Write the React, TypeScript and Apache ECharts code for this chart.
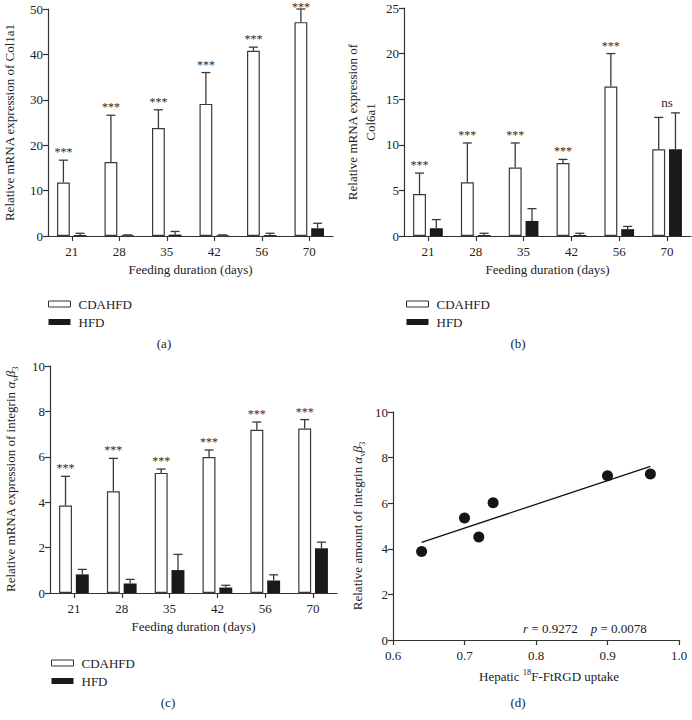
import React, { useEffect, useRef } from "react";
import * as echarts from "echarts";

const FONT = '"Liberation Serif", "Times New Roman", serif';

// Shared categories
const DAYS = ["21", "28", "35", "42", "56", "70"];
const SERIES_NAMES = ["CDAHFD", "HFD"];

// Panel (a) Col1a1
const A_CDAHFD = [11.8, 16.3, 23.8, 29.1, 40.8, 47.1];
const A_CDAHFD_SD = [4.9, 10.3, 4.0, 6.9, 0.8, 2.9];
const A_HFD = [0.2, 0.15, 0.3, 0.15, 0.2, 1.7];
const A_HFD_SD = [0.4, 0.1, 0.7, 0.1, 0.4, 1.1];
const A_SIG = ["***", "***", "***", "***", "***", "***"];

// Panel (b) Col6a1
const B_CDAHFD = [4.6, 5.9, 7.5, 8.0, 16.4, 9.5];
const B_CDAHFD_SD = [2.3, 4.3, 2.7, 0.4, 3.6, 3.5];
const B_HFD = [0.85, 0.1, 1.65, 0.1, 0.75, 9.5];
const B_HFD_SD = [0.95, 0.2, 1.35, 0.2, 0.3, 4.0];
const B_SIG = ["***", "***", "***", "***", "***", "ns"];

// Panel (c) integrin avb3 mRNA
const C_CDAHFD = [3.85, 4.48, 5.29, 5.99, 7.19, 7.25];
const C_CDAHFD_SD = [1.29, 1.45, 0.17, 0.31, 0.34, 0.39];
const C_HFD = [0.82, 0.42, 1.01, 0.24, 0.55, 1.97];
const C_HFD_SD = [0.22, 0.18, 0.69, 0.1, 0.25, 0.27];
const C_SIG = ["***", "***", "***", "***", "***", "***"];

// Panel (d) correlation
const D_UPTAKE = [0.64, 0.7, 0.72, 0.74, 0.9, 0.96];
const D_INTEGRIN = [3.88, 5.35, 4.52, 6.02, 7.2, 7.28];
const D_FIT_X = [0.64, 0.96];
const D_FIT_Y = [4.28, 7.62];

const AXIS_COLOR = "#333";
const TEXT_COLOR = "#222";

function yAxisCfg(gridIndex: number, max: number, interval: number, name: string, gap: number, rich?: any, lineHeight?: number) {
  return {
    type: "value",
    gridIndex,
    min: 0,
    max,
    interval,
    name,
    nameLocation: "middle",
    nameGap: gap,
    nameRotate: 90,
    nameTextStyle: {
      fontFamily: FONT,
      fontSize: 13,
      color: TEXT_COLOR,
      lineHeight: lineHeight || 16,
      align: "center",
      rich,
    },
    axisLine: { show: true, lineStyle: { color: AXIS_COLOR, width: 1.2 } },
    axisTick: { show: true, length: 5, lineStyle: { color: AXIS_COLOR, width: 1.2 } },
    axisLabel: { color: TEXT_COLOR, fontSize: 13, fontFamily: FONT, margin: 5 },
    splitLine: { show: false },
  };
}

function xCatCfg(gridIndex: number) {
  return {
    type: "category",
    gridIndex,
    data: DAYS,
    name: "Feeding duration (days)",
    nameLocation: "middle",
    nameGap: 27,
    nameTextStyle: { fontFamily: FONT, fontSize: 13, color: TEXT_COLOR },
    axisLine: { show: true, lineStyle: { color: AXIS_COLOR, width: 1.2 } },
    axisTick: { show: true, alignWithLabel: true, length: 5, lineStyle: { color: AXIS_COLOR, width: 1.2 } },
    axisLabel: { color: TEXT_COLOR, fontSize: 13, fontFamily: FONT, margin: 9 },
    splitLine: { show: false },
  };
}

function barSeries(idx: number, cd: number[], hfd: number[], cdSd: number[], hfdSd: number[], sig: string[]) {
  const errData = DAYS.map((_, i) => [i, cd[i], cdSd[i], hfd[i], hfdSd[i]]);
  return [
    {
      type: "bar",
      name: SERIES_NAMES[0],
      xAxisIndex: idx,
      yAxisIndex: idx,
      data: cd,
      barWidth: "27%",
      barGap: "30%",
      itemStyle: { color: "#ffffff", borderColor: "#3a3a3a", borderWidth: 1.2 },
    },
    {
      type: "bar",
      name: SERIES_NAMES[1],
      xAxisIndex: idx,
      yAxisIndex: idx,
      data: hfd,
      barWidth: "27%",
      barGap: "30%",
      itemStyle: { color: "#1a1a1a" },
    },
    {
      type: "custom",
      name: "err" + idx,
      xAxisIndex: idx,
      yAxisIndex: idx,
      z: 5,
      itemStyle: { color: "#333" },
      data: errData,
      renderItem: (params: any, api: any) => {
        const i = api.value(0);
        const bw = api.size([1, 0])[0];
        const off = bw * 0.1755;
        const xc = api.coord([i, 0])[0];
        const cap = 4.5;
        const children: any[] = [];
        const pairs = [
          [api.value(1), api.value(2), -1],
          [api.value(3), api.value(4), 1],
        ];
        let topY = Infinity;
        pairs.forEach(([m, s, sign]) => {
          const x = xc + sign * off;
          const yb = api.coord([i, m])[1];
          const yt = api.coord([i, m + s])[1];
          topY = Math.min(topY, yt);
          children.push({
            type: "line",
            shape: { x1: x, y1: yb, x2: x, y2: yt },
            style: { stroke: "#3a3a3a", lineWidth: 1.3 },
          });
          children.push({
            type: "line",
            shape: { x1: x - cap, y1: yt, x2: x + cap, y2: yt },
            style: { stroke: "#3a3a3a", lineWidth: 1.3 },
          });
        });
        const label = sig[params.dataIndex];
        const isNs = label === "ns";
        const cdTop = api.coord([i, api.value(1) + api.value(2)])[1];
        const ty = isNs ? topY - 4 : Math.max(cdTop - 2, 13);
        children.push({
          type: "text",
          x: isNs ? xc : xc - off,
          y: ty,
          style: {
            text: label,
            fill: "#2a2a2a",
            font: `${isNs ? 13 : 12}px ${FONT}`,
            align: "center",
            verticalAlign: "bottom",
          },
        });
        return { type: "group", children };
      },
    },
  ];
}

function legendCfg(left: number, top: number) {
  return {
    left,
    top,
    orient: "vertical",
    itemWidth: 22,
    itemHeight: 6,
    itemGap: 4,
    icon: "rect",
    selectedMode: false,
    textStyle: { fontFamily: FONT, fontSize: 13, color: TEXT_COLOR, lineHeight: 14, padding: [0, 0, 0, 3] },
    data: [
      { name: SERIES_NAMES[0], itemStyle: { color: "#ffffff", borderColor: "#333", borderWidth: 1 } },
      { name: SERIES_NAMES[1], itemStyle: { color: "#1a1a1a" } },
    ],
  };
}

function caption(text: string, x: number, y: number) {
  return {
    type: "text",
    x,
    y,
    style: { text, fill: TEXT_COLOR, font: `13px ${FONT}`, align: "center", verticalAlign: "middle" },
  };
}

export default function App() {
  const ref = useRef<HTMLDivElement>(null);
  useEffect(() => {
    if (!ref.current) return;
    const chart = echarts.init(ref.current, undefined, { renderer: "svg" });
    const subRich = {
      g: { fontFamily: FONT, fontSize: 13, fontStyle: "italic", color: TEXT_COLOR, lineHeight: 18 },
      sub: { fontFamily: FONT, fontSize: 8.5, color: TEXT_COLOR, lineHeight: 8, verticalAlign: "bottom" },
    };
    const option: any = {
      animation: false,
      backgroundColor: "#ffffff",
      color: ["#333333"],
      textStyle: { fontFamily: FONT },
      grid: [
        { left: 46, top: 9, width: 287, height: 227 },
        { left: 404, top: 8, width: 287, height: 228 },
        { left: 49, top: 366, width: 288, height: 227 },
        { left: 393, top: 412, width: 286, height: 228 },
      ],
      xAxis: [
        xCatCfg(0),
        xCatCfg(1),
        xCatCfg(2),
        {
          type: "value",
          gridIndex: 3,
          min: 0.6,
          max: 1.0,
          interval: 0.1,
          name: "Hepatic {sup|18}F-FtRGD uptake",
          nameLocation: "middle",
          nameGap: 27,
          nameTextStyle: {
            fontFamily: FONT,
            fontSize: 13,
            color: TEXT_COLOR,
            lineHeight: 18,
            padding: [0, 0, 0, 26],
            rich: {
              sup: { fontFamily: FONT, fontSize: 8.5, color: TEXT_COLOR, lineHeight: 8, verticalAlign: "top" },
            },
          },
          axisLine: { show: true, onZero: false, lineStyle: { color: AXIS_COLOR, width: 1.2 } },
          axisTick: { show: true, length: 5, lineStyle: { color: AXIS_COLOR, width: 1.2 } },
          axisLabel: {
            color: TEXT_COLOR,
            fontSize: 13,
            fontFamily: FONT,
            margin: 9,
            formatter: (v: number) => v.toFixed(1),
          },
          splitLine: { show: false },
        },
      ],
      yAxis: [
        yAxisCfg(0, 50, 10, "Relative mRNA expression of Col1a1", 31),
        yAxisCfg(1, 25, 5, "Relative mRNA expression of\nCol6a1", 25, undefined, 18),
        yAxisCfg(2, 10, 2, "Relative mRNA expression of integrin {g|α}{sub|v}{g|β}{sub|3}", 31, subRich, 18),
        yAxisCfg(3, 10, 2, "Relative amount of integrin {g|α}{sub|v}{g|β}{sub|3}", 27, subRich, 18),
      ],
      legend: [legendCfg(43, 292), legendCfg(401, 292), legendCfg(46, 651)],
      series: [
        ...barSeries(0, A_CDAHFD, A_HFD, A_CDAHFD_SD, A_HFD_SD, A_SIG),
        ...barSeries(1, B_CDAHFD, B_HFD, B_CDAHFD_SD, B_HFD_SD, B_SIG),
        ...barSeries(2, C_CDAHFD, C_HFD, C_CDAHFD_SD, C_HFD_SD, C_SIG),
        {
          type: "line",
          name: "fit",
          xAxisIndex: 3,
          yAxisIndex: 3,
          data: D_FIT_X.map((x, i) => [x, D_FIT_Y[i]]),
          symbol: "none",
          lineStyle: { color: "#111", width: 1.3 },
          z: 3,
        },
        {
          type: "scatter",
          name: "points",
          xAxisIndex: 3,
          yAxisIndex: 3,
          data: D_UPTAKE.map((x, i) => [x, D_INTEGRIN[i]]),
          symbol: "circle",
          symbolSize: 11,
          itemStyle: { color: "#151515", opacity: 1 },
          z: 4,
        },
      ],
      graphic: [
        caption("(a)", 164, 343),
        caption("(b)", 518, 343),
        caption("(c)", 168, 702),
        caption("(d)", 518, 702),
        {
          type: "text",
          x: 523,
          y: 628,
          style: {
            text: "{i|r} = 0.9272    {i|p} = 0.0078",
            fill: TEXT_COLOR,
            font: `13px ${FONT}`,
            verticalAlign: "middle",
            rich: {
              i: { fontFamily: FONT, fontSize: 13, fontStyle: "italic", fill: TEXT_COLOR },
            },
          },
        },
      ],
    };
    chart.setOption(option);
    return () => chart.dispose();
  }, []);
  return (
    <div
      ref={ref}
      style={{ position: "absolute", left: 0, top: 0, width: 692, height: 720, background: "#fff" }}
    />
  );
}
